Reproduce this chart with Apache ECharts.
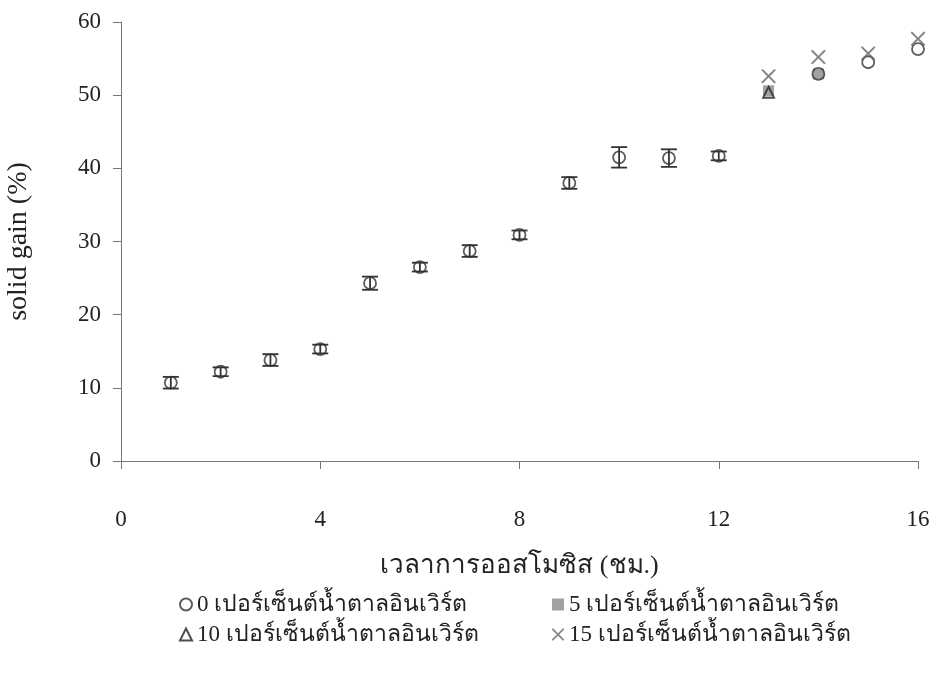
<!DOCTYPE html>
<html>
<head>
<meta charset="utf-8">
<script src="https://cdn.jsdelivr.net/npm/echarts@6/dist/echarts.min.js"></script>
<style>
  html, body { margin: 0; padding: 0; background: #fff; }
  #chart { width: 940px; height: 677px; }
</style>
</head>
<body>
<div id="chart"></div>
<script>
// Osmotic dehydration time (h) and solid gain (%) for each invert sugar level
const hours0 = [1, 2, 3, 4, 5, 6, 7, 8, 9, 10, 11, 12, 14, 15, 16];
const gain0 = [10.7, 12.2, 13.8, 15.3, 24.3, 26.5, 28.7, 30.9, 38.0, 41.5, 41.4, 41.7, 52.9, 54.5, 56.3];
const err0 = [0.8, 0.6, 0.8, 0.6, 0.9, 0.6, 0.8, 0.6, 0.8, 1.4, 1.2, 0.6, 0, 0, 0];

const hours5 = [13, 14];
const gain5 = [50.6, 52.9];

const hours10 = [13];
const gain10 = [50.4];

const hours15 = [13, 14, 15, 16];
const gain15 = [52.6, 55.2, 55.7, 57.7];

const xTicks = [0, 4, 8, 12, 16];
const yTicks = [0, 10, 20, 30, 40, 50, 60];

const names = [
  '0 เปอร์เซ็นต์น้ำตาลอินเวิร์ต',
  '5 เปอร์เซ็นต์น้ำตาลอินเวิร์ต',
  '10 เปอร์เซ็นต์น้ำตาลอินเวิร์ต',
  '15 เปอร์เซ็นต์น้ำตาลอินเวิร์ต'
];

const pairs = (xs, ys) => xs.map((x, i) => [x, ys[i]]);
const errData = hours0.map((x, i) => [x, gain0[i], err0[i]]).filter(d => d[2] > 0);

const serif = "'Liberation Serif', 'Times New Roman', serif";
const textColor = '#222';
const markColor = '#333';
const xPath = 'path://M0,0 L1.4,0 L7,5.6 L12.6,0 L14,0 L14,1.4 L8.4,7 L14,12.6 L14,14 L12.6,14 L7,8.4 L1.4,14 L0,14 L0,12.6 L5.6,7 L0,1.4 Z';

const chart = echarts.init(document.getElementById('chart'), null, { renderer: 'canvas' });

chart.setOption({
  backgroundColor: '#fff',
  animation: false,
  grid: { left: 121, right: 22, top: 22, bottom: 216, containLabel: false, outerBoundsMode: 'none' },
  xAxis: {
    type: 'value', min: xTicks[0], max: xTicks[xTicks.length - 1], interval: 4,
    name: 'เวลาการออสโมซิส (ชม.)', nameLocation: 'middle', nameGap: 92,
    nameTextStyle: { fontFamily: serif, fontSize: 26, color: textColor },
    axisLine: { lineStyle: { color: '#777', width: 1 } },
    axisTick: { show: true, length: 8, lineStyle: { color: '#777' } },
    axisLabel: { margin: 47, fontFamily: serif, fontSize: 23, color: textColor },
    splitLine: { show: false }
  },
  yAxis: {
    type: 'value', min: yTicks[0], max: yTicks[yTicks.length - 1], interval: 10,
    name: 'solid gain (%)', nameLocation: 'middle', nameGap: 88, nameRotate: 90,
    nameTextStyle: { fontFamily: serif, fontSize: 28, color: textColor },
    axisLine: { show: true, lineStyle: { color: '#777', width: 1 } },
    axisTick: { show: true, length: 8, lineStyle: { color: '#777' } },
    axisLabel: { margin: 20, fontFamily: serif, fontSize: 23, color: textColor },
    splitLine: { show: false }
  },
  legend: [
    {
      orient: 'vertical', left: 174, top: 588, itemGap: 7, itemWidth: 12, itemHeight: 12,
      textStyle: { fontFamily: serif, fontSize: 23, color: textColor },
      data: [
        { name: names[0], icon: 'circle' },
        { name: names[2], icon: 'triangle' }
      ]
    },
    {
      orient: 'vertical', left: 547, top: 588, itemGap: 7, itemWidth: 12, itemHeight: 12,
      textStyle: { fontFamily: serif, fontSize: 23, color: textColor },
      data: [
        { name: names[1], icon: 'rect' },
        { name: names[3], icon: xPath }
      ]
    }
  ],
  series: [
    {
      name: names[1], type: 'scatter', data: pairs(hours5, gain5),
      symbol: 'rect', symbolSize: 11,
      itemStyle: { color: '#8a8a8a' }, z: 2
    },
    {
      name: names[0], type: 'scatter', data: pairs(hours0, gain0),
      symbol: 'circle', symbolSize: 12,
      itemStyle: { color: 'rgba(255,255,255,0)', borderColor: markColor, borderWidth: 1.8 }, z: 3
    },
    {
      name: names[2], type: 'scatter', data: pairs(hours10, gain10),
      symbol: 'triangle', symbolSize: 11,
      itemStyle: { color: 'rgba(255,255,255,0)', borderColor: '#222', borderWidth: 1.8 }, z: 4
    },
    {
      name: names[3], type: 'scatter', data: pairs(hours15, gain15),
      symbol: xPath, symbolSize: 14,
      itemStyle: { color: '#666' }, z: 5
    },
    {
      name: 'error', type: 'custom', data: errData, z: 6,
      renderItem: function (params, api) {
        const x = api.value(0), y = api.value(1), e = api.value(2);
        const top = api.coord([x, y + e]);
        const bot = api.coord([x, y - e]);
        const half = 8;
        const style = { stroke: markColor, lineWidth: 1.8 };
        return {
          type: 'group',
          children: [
            { type: 'line', shape: { x1: top[0], y1: top[1], x2: bot[0], y2: bot[1] }, style: style },
            { type: 'line', shape: { x1: top[0] - half, y1: top[1], x2: top[0] + half, y2: top[1] }, style: style },
            { type: 'line', shape: { x1: bot[0] - half, y1: bot[1], x2: bot[0] + half, y2: bot[1] }, style: style }
          ]
        };
      }
    }
  ]
});
</script>
</body>
</html>
